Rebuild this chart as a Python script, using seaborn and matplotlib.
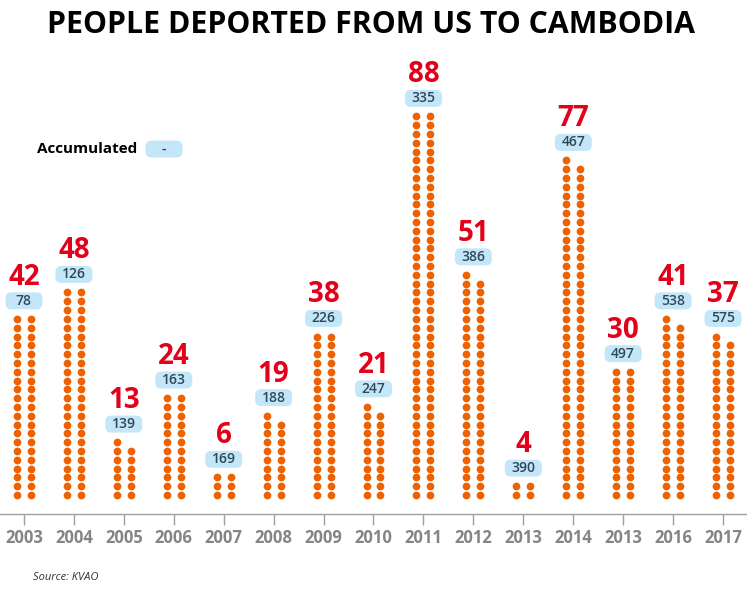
import seaborn as sns
import matplotlib.pyplot as plt
import matplotlib.transforms as mtransforms
from matplotlib.patches import FancyBboxPatch
import pandas as pd
import numpy as np

# chart data
years = ['2003', '2004', '2005', '2006', '2007', '2008', '2009', '2010',
         '2011', '2012', '2013', '2014', '2013', '2016', '2017']
deported = [42, 48, 13, 24, 6, 19, 38, 21, 88, 51, 4, 77, 30, 41, 37]
accumulated = [78, 126, 139, 163, 169, 188, 226, 247, 335, 386, 390, 467, 497, 538, 575]

PILL = '#c4e6f9'
PILL_TXT = '#2f4858'

# one dot per person, stacked in two columns per year
rows = []
for i, n in enumerate(deported):
    left = (n + 1) // 2
    right = n // 2
    for r in range(left):
        rows.append({'x': i - 0.14, 'y': r})
    for r in range(right):
        rows.append({'x': i + 0.14, 'y': r})
dots = pd.DataFrame(rows)

sns.set_style('white')
plt.rcParams['font.family'] = ['Open Sans', 'DejaVu Sans']

fig = plt.figure(figsize=(7.47, 5.98), dpi=100)
ax = fig.add_axes([0, 0.1405, 1, 0.759])

sns.scatterplot(data=dots, x='x', y='y', s=31, color='#ee6100',
                linewidth=0, ax=ax, legend=False)

ax.set_xlim(-0.48, 14.48)
ax.set_ylim(-2.16, 49.4)


def make_pill(trans_anchor, dy_in):
    # fixed-size rounded box (in inches) centred dy_in above the anchor
    w, h = 0.37, 0.17
    tr = fig.dpi_scale_trans + trans_anchor
    return FancyBboxPatch((-w / 2, dy_in - h / 2), w, h,
                          boxstyle='round,pad=0,rounding_size=0.06',
                          fc=PILL, ec='none', transform=tr, clip_on=False, zorder=1)


# labels above each column
for i, (n, acc) in enumerate(zip(deported, accumulated)):
    top = (n + 1) // 2 - 1
    ax.add_artist(make_pill(mtransforms.ScaledTranslation(i, top, ax.transData), 13 / 72))
    ax.annotate(str(acc), (i, top), xytext=(0, 13), textcoords='offset points',
                ha='center', va='center', fontsize=10, fontweight='semibold',
                color=PILL_TXT, zorder=5)
    ax.annotate(str(n), (i, top), xytext=(0, 30), textcoords='offset points',
                ha='center', va='center', fontsize=20, fontweight='bold',
                color='#e2001a')

ax.set_xticks(range(len(years)))
ax.set_xticklabels(years, fontsize=12, fontweight='bold', color='#858585')
ax.set_yticks([])
ax.tick_params(axis='x', bottom=True, length=8, width=1, color='#a0a0a0', pad=3)
for side in ['top', 'left', 'right']:
    ax.spines[side].set_visible(False)
ax.spines['bottom'].set_color('#a0a0a0')
ax.spines['bottom'].set_linewidth(1)
ax.set_xlabel('')
ax.set_ylabel('')

fig.text(0.497, 1 - 25 / 598, 'PEOPLE DEPORTED FROM US TO CAMBODIA', ha='center', va='center',
         fontsize=21.8, fontweight='bold', color='black')

# legend
fig.text(37 / 747, 1 - 149 / 598, 'Accumulated', ha='left', va='center',
         fontsize=11, fontweight='bold', color='black')
fig.add_artist(make_pill(mtransforms.ScaledTranslation(164 / 747, 1 - 149 / 598,
                                                       fig.transFigure), 0))
fig.text(164 / 747, 1 - 149 / 598, '-', ha='center', va='center',
         fontsize=10, fontweight='semibold', color=PILL_TXT, zorder=5)

fig.text(33 / 747, 1 - 578 / 598, 'Source: KVAO', ha='left', va='center',
         fontsize=8, style='italic', color='#333333')

fig.savefig('out.png', dpi=100)
